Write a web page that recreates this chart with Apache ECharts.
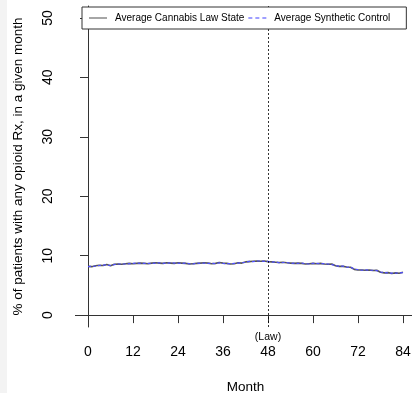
<!DOCTYPE html>
<html><head><meta charset="utf-8">
<script src="https://cdn.jsdelivr.net/npm/echarts@6/dist/echarts.min.js"></script>
<style>html,body{margin:0;padding:0;background:#fff}#c{width:412px;height:393px}</style>
</head><body><div id="c"></div>
<script>
const months = Array.from({length: 85}, (_, i) => i);
const xTicks = [0, 12, 24, 36, 48, 60, 72, 84];
const yTicks = [0, 10, 20, 30, 40, 50];
const lawMonth = 48;
const lawState = [
 8.2,8.15,8.3,8.4,8.35,8.5,8.3,8.55,8.6,8.55,8.65,8.7,8.65,
 8.7,8.75,8.7,8.65,8.75,8.8,8.75,8.7,8.8,8.75,8.7,8.8,
 8.75,8.7,8.6,8.65,8.7,8.75,8.8,8.75,8.65,8.7,8.85,8.75,
 8.7,8.6,8.65,8.8,8.75,8.95,9.0,9.05,9.1,9.05,9.1,9.0,
 8.95,8.9,8.85,8.9,8.8,8.75,8.7,8.75,8.7,8.6,8.65,8.7,
 8.65,8.7,8.6,8.55,8.6,8.3,8.2,8.2,8.1,8.05,7.7,7.6,
 7.6,7.55,7.6,7.5,7.55,7.2,7.1,7.15,7.0,7.1,7.05,7.2
];
const synthetic = [
 8.15,8.2,8.25,8.35,8.4,8.45,8.35,8.5,8.6,8.6,8.6,8.65,8.7,
 8.75,8.7,8.7,8.7,8.7,8.75,8.8,8.7,8.75,8.8,8.75,8.75,
 8.7,8.75,8.65,8.6,8.75,8.7,8.75,8.7,8.7,8.65,8.8,8.7,
 8.65,8.65,8.7,8.75,8.8,8.9,9.05,9.0,9.1,9.1,9.05,9.05,
 8.9,8.95,8.8,8.85,8.85,8.7,8.75,8.7,8.75,8.65,8.6,8.7,
 8.7,8.65,8.65,8.6,8.5,8.35,8.2,8.25,8.05,8.1,7.75,7.65,
 7.55,7.6,7.55,7.55,7.5,7.25,7.15,7.1,7.05,7.05,7.1,7.15
];
const seriesNames = ['Average Cannabis Law State', 'Average Synthetic Control'];

const chart = echarts.init(document.getElementById('c'), null, {renderer: 'canvas'});
const font = 'Liberation Sans, Arial, sans-serif';
chart.setOption({
  backgroundColor: '#fff',
  animation: false,
  textStyle: {fontFamily: font},
  graphic: [{type: 'rect', left: 0, top: 0, shape: {width: 7, height: 393}, style: {fill: '#f3f3f3'}, z: -1}],
  legend: {
    left: 82, top: 7, orient: 'horizontal',
    backgroundColor: '#fff', borderColor: '#333', borderWidth: 1,
    padding: [6, 16, 6, 7], itemGap: 4, itemWidth: 18, itemHeight: 1.5,
    textStyle: {fontSize: 10, color: '#000', fontFamily: font, padding: [0, 0, 0, 3]},
    data: [
      {name: seriesNames[0], icon: 'path://M0,0h18v1.5h-18z', itemStyle: {color: '#888'}},
      {name: seriesNames[1], icon: 'path://M0,0h4v1.5h-4z M7,0h4v1.5h-4z M14,0h4v1.5h-4z', itemStyle: {color: '#8080ff'}}
    ],
    z: 10
  },
  grid: {left: 75.4, top: 6, width: 340.2, height: 321, outerBoundsMode: 'none', containLabel: false},
  xAxis: {
    type: 'value', min: -3.36, max: 87.36,
    name: 'Month', nameLocation: 'middle', nameGap: 53,
    nameTextStyle: {fontSize: 13.5, color: '#000', fontFamily: font},
    axisLine: {lineStyle: {color: '#333', width: 1}},
    axisTick: {show: true, length: 8, customValues: xTicks, lineStyle: {color: '#333'}},
    axisLabel: {customValues: xTicks, fontSize: 14, color: '#000', margin: 18, fontFamily: font},
    splitLine: {show: false}
  },
  yAxis: {
    type: 'value', min: -2, max: 52,
    name: '% of patients with any opioid Rx, in a given month',
    nameLocation: 'middle', nameGap: 50,
    nameTextStyle: {fontSize: 13.5, color: '#000', fontFamily: font},
    axisLine: {show: true, lineStyle: {color: '#333', width: 1}},
    axisTick: {show: true, length: 8, customValues: yTicks, lineStyle: {color: '#333'}},
    axisLabel: {customValues: yTicks, fontSize: 14, color: '#000', rotate: 90, margin: 20, fontFamily: font},
    splitLine: {show: false}
  },
  series: [
    {
      name: seriesNames[0], type: 'line', symbol: 'none',
      data: months.map((m, i) => [m, lawState[i]]),
      lineStyle: {color: '#555', width: 1.6, type: 'solid'},
      itemStyle: {color: '#555'},
      markLine: {
        silent: true, symbol: 'none',
        lineStyle: {color: '#000', width: 0.8, type: [2, 2]},
        label: {show: true, position: 'start', formatter: '(Law)', fontSize: 10.5, color: '#000', distance: 5, fontFamily: font},
        data: [{xAxis: lawMonth}]
      }
    },
    {
      name: seriesNames[1], type: 'line', symbol: 'none',
      data: months.map((m, i) => [m, synthetic[i]]),
      lineStyle: {color: '#5050ff', width: 1.2, type: [3, 2]},
      itemStyle: {color: '#5050ff'}
    }
  ]
});
</script></body></html>
